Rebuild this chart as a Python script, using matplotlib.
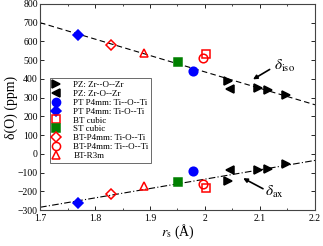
import matplotlib
matplotlib.use("Agg")
import matplotlib.pyplot as plt
from matplotlib.ticker import MultipleLocator

plt.rcParams['font.family'] = ['Liberation Serif', 'DejaVu Serif']
plt.rcParams['mathtext.fontset'] = 'stix'

# fitted lines (end points at the axis limits)
fit_x = [1.7, 2.2]
iso_fit = [700, 262]
ax_fit = [-285, -35]

pz_a_r = [2.042, 2.097, 2.115, 2.147]
pz_a_iso = [388, 349, 340, 313]
pz_a_ax = [-145, -84, -79, -52]

pz_b_r = [2.045]
pz_b_iso = [344]
pz_b_ax = [-88]

pt_circ_r = [1.979]
pt_circ_iso = [442]
pt_circ_ax = [-93]

pt_dia_r = [1.769]
pt_dia_iso = [636]
pt_dia_ax = [-264]

bt_cub_r = [2.001]
bt_cub_iso = [531]
bt_cub_ax = [-180]

st_cub_r = [1.951]
st_cub_iso = [488]
st_cub_ax = [-152]

bt_dia_r = [1.829]
bt_dia_iso = [583]
bt_dia_ax = [-214]

bt_circ_r = [1.996]
bt_circ_iso = [510]
bt_circ_ax = [-160]

bt_r3m_r = [1.889]
bt_r3m_iso = [537]
bt_r3m_ax = [-172]

series = [
    ("PZ: Zr--O--Zr", '>', 'black', 'black', pz_a_r, pz_a_iso, pz_a_ax),
    ("PZ: Zr-O--Zr", '<', 'black', 'black', pz_b_r, pz_b_iso, pz_b_ax),
    ("PT P4mm: Ti--O--Ti", 'o', 'blue', 'blue', pt_circ_r, pt_circ_iso, pt_circ_ax),
    ("PT P4mm: Ti-O--Ti", 'D', 'blue', 'blue', pt_dia_r, pt_dia_iso, pt_dia_ax),
    ("BT cubic", 's', 'none', 'red', bt_cub_r, bt_cub_iso, bt_cub_ax),
    ("ST cubic", 's', 'green', 'green', st_cub_r, st_cub_iso, st_cub_ax),
    ("BT-P4mm: Ti-O--Ti", 'D', 'none', 'red', bt_dia_r, bt_dia_iso, bt_dia_ax),
    ("BT-P4mm: Ti--O--Ti", 'o', 'none', 'red', bt_circ_r, bt_circ_iso, bt_circ_ax),
    ("BT-R3m", '^', 'none', 'red', bt_r3m_r, bt_r3m_iso, bt_r3m_ax),
]

fig = plt.figure(figsize=(3.23, 2.46), dpi=100)
ax = fig.add_axes([0.124, 0.146, 0.851, 0.838])

ax.plot(fit_x, iso_fit, color='black', ls=(0, (5, 3)), lw=0.8)
ax.plot(fit_x, ax_fit, color='black', ls=(0, (6, 2, 1, 2)), lw=0.8)

for lab, m, fc, ec, r, iso, axv in series:
    ms = 5.2 if m == 'D' else 6.2
    ax.plot(r, iso, ls='none', marker=m, mfc=fc, mec=ec, mew=1.1, ms=ms, label=lab)
    ax.plot(r, axv, ls='none', marker=m, mfc=fc, mec=ec, mew=1.1, ms=ms)

ax.set_xlim(1.7, 2.2)
ax.set_ylim(-300, 800)
ax.xaxis.set_minor_locator(MultipleLocator(0.05))
ax.yaxis.set_major_locator(MultipleLocator(100))
ax.set_xticks([1.7, 1.8, 1.9, 2.0, 2.1, 2.2])
ax.set_xticklabels(['1.7', '1.8', '1.9', '2', '2.1', '2.2'])
ax.tick_params(direction='in', top=True, right=True, labelsize=7, length=3, width=0.6, pad=1.5)
ax.tick_params(axis='x', pad=2.5)
ax.tick_params(which='minor', direction='in', top=True, right=True, length=1.5, width=0.5)
for s in ax.spines.values():
    s.set_linewidth(0.8)
    s.set_color('#444444')

ax.set_xlabel(r'$r_{\rm s}$ (Å)', fontsize=10, labelpad=0)
ax.set_ylabel('δ(O) (ppm)', fontsize=10, labelpad=0)

ax.annotate('', xy=(2.083, 390), xytext=(2.122, 458),
            arrowprops=dict(arrowstyle='-|>', color='black', lw=1.2, mutation_scale=6))
ax.text(2.125, 470, r'$\delta_{\rm iso}$', fontsize=11, va='center', ha='left')
ax.annotate('', xy=(2.065, -123), xytext=(2.11, -193),
            arrowprops=dict(arrowstyle='-|>', color='black', lw=1.2, mutation_scale=6))
ax.text(2.11, -205, r'$\delta_{\rm ax}$', fontsize=11, va='center', ha='left')

leg = ax.legend(loc='upper left', bbox_to_anchor=(0.036, 0.64), fontsize=6.5,
                frameon=True, fancybox=False, edgecolor='#444444', handlelength=0.8,
                handletextpad=1.5, labelspacing=0.06, borderpad=0.3, borderaxespad=0,
                markerscale=0.95)
leg.get_frame().set_linewidth(0.7)

fig.savefig('out.png', dpi=100)
